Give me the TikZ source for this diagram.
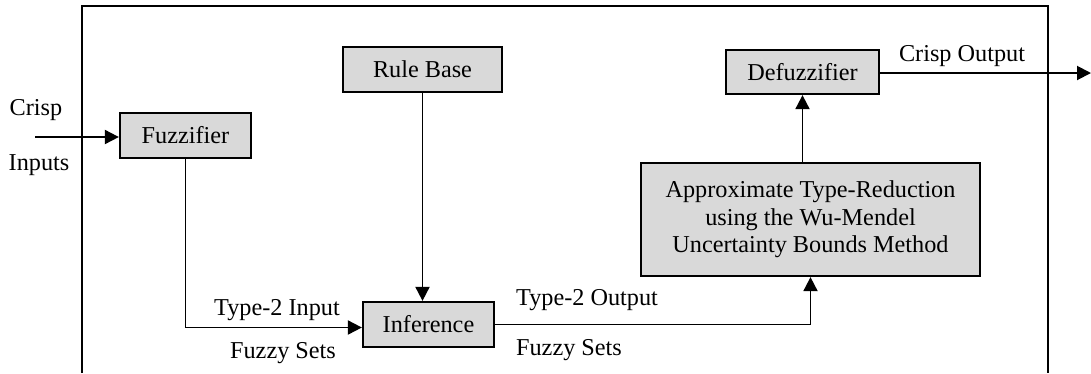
\documentclass[tikz,border=0pt]{standalone}
\usepackage{fontspec}
\setmainfont{Liberation Serif}
\usetikzlibrary{arrows.meta}

\definecolor{boxgray}{gray}{0.85}
\tikzset{
  block/.style={draw, line width=1.3pt, fill=boxgray, minimum height=0.9cm, inner sep=0pt, align=center},
  flow/.style={line width=1.1pt, -{Triangle[length=0.28cm, width=0.28cm]}},
  lbl/.style={inner sep=0pt}
}

\begin{document}
\begin{tikzpicture}[x=0.02cm, y=-0.02cm, font=\fontsize{13.8}{15.6}\selectfont]
\useasboundingbox (0,0) rectangle (1091,373);

% outer frame, open at the bottom
\draw[line width=1pt] (82,373) -- (82,6) -- (1048,6) -- (1048,373);

% blocks
\node[block, minimum width=2.62cm] (fuzz) at (185.5,135.5) {Fuzzifier};
\node[block, minimum width=3.18cm] (rule) at (422.5,69.5) {Rule Base};
\node[block, minimum width=2.62cm] (infer) at (428.5,324.5) {Inference};
\node[block, minimum width=6.78cm, minimum height=2.26cm] (approx) at (810.5,219.5)
  {Approximate Type-Reduction\\using the Wu-Mendel\\Uncertainty Bounds Method};
\node[block, minimum width=3.06cm, minimum height=0.88cm] (defuzz) at (802.5,72) {Defuzzifier};

% free ends
\coordinate (in) at (35,137);
\coordinate (out) at (1091,73);

% connectors
\draw[flow] (in) -- (fuzz.west |- in);
\draw[flow] (fuzz.south) |- ([yshift=-0.06cm]infer.west);
\draw[flow] (rule.south) -- (rule.south |- infer.north);
\draw[flow] (infer.east) -| (approx.south);
\draw[flow] (defuzz.south |- approx.north) -- (defuzz.south);
\draw[flow] (defuzz.east |- out) -- (out);

% labels
\node[lbl] (crisp) at (36,110) {Crisp};
\node[lbl] (inputs) at (39,165) {Inputs};
\node[lbl] (t2in) at (277,310) {Type-2 Input};
\node[lbl] (fsin) at (283,353) {Fuzzy Sets};
\node[lbl] (t2out) at (587,300) {Type-2 Output};
\node[lbl] (fsout) at (569,350) {Fuzzy Sets};
\node[lbl] (cout) at (962,56) {Crisp Output};
\end{tikzpicture}
\end{document}
